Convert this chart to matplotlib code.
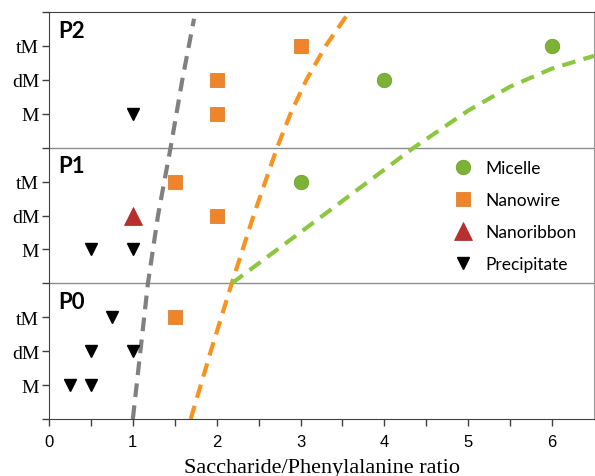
from matplotlib import pyplot as plt
import numpy as np

##-----------------------------------------------------------------------------
## data (y: panel offset + level; P0 = 0, P1 = 3, P2 = 6; M = 0.75, dM = 1.5, tM = 2.25)

level_names = ['M', 'dM', 'tM']
level_pos = [0.75, 1.5, 2.25]
panel_names = ['P0', 'P1', 'P2']
panel_off = [0, 3, 6]

micelle_x = [4, 6, 3]
micelle_y = [6 + 1.5, 6 + 2.25, 3 + 2.25]

nanowire_x = [2, 2, 3, 1.5, 2, 1.5]
nanowire_y = [6 + 0.75, 6 + 1.5, 6 + 2.25, 3 + 2.25, 3 + 1.5, 0 + 2.25]

nanoribbon_x = [1]
nanoribbon_y = [3 + 1.5]

precip_x = [1, 0.5, 1, 0.25, 0.5, 0.5, 1, 0.75]
precip_y = [6 + 0.75, 3 + 0.75, 3 + 0.75, 0.75, 0.75, 1.5, 1.5, 2.25]

gray_x = [1.0, 1.09, 1.18, 1.30, 1.45, 1.59, 1.73]
gray_y = [0, 1.5, 3, 4.5, 6, 7.5, 8.85]

orange_x = [1.69, 1.93, 2.18, 2.44, 2.72, 2.88, 3.07, 3.30, 3.58]
orange_y = [0, 1.5, 3, 4.5, 6, 6.75, 7.5, 8.25, 9.0]

green_x = [2.18, 3.0, 3.7, 4.35, 5.0, 5.5, 6.0, 6.5]
green_y = [3, 4.13, 5.1, 6.0, 6.82, 7.35, 7.75, 8.03]

##-----------------------------------------------------------------------------

fig = plt.figure(figsize=(5.95, 4.77), dpi=100)
ax = fig.add_axes([49/595, 1 - 420/477, (594 - 49)/595, (420 - 13)/477])

dash = (3.3, 2.0)
ax.plot(gray_x, gray_y, color='#808080', lw=3, dashes=dash, zorder=2)
ax.plot(orange_x, orange_y, color='#f7931e', lw=3, dashes=dash, zorder=2)
ax.plot(green_x, green_y, color='#8dc63f', lw=3, dashes=dash, zorder=2)

ax.axhline(3, color='#8c8c8c', lw=1, zorder=1)
ax.axhline(6, color='#8c8c8c', lw=1, zorder=1)

ax.plot(micelle_x, micelle_y, 'o', ms=10.5, color='#7cb236', mec='#6a9a2c', mew=0.5, ls='none', label='Micelle', zorder=3)
ax.plot(nanowire_x, nanowire_y, 's', ms=10.5, color='#f0842a', mec='#d8721e', mew=0.5, ls='none', label='Nanowire', zorder=3)
ax.plot(nanoribbon_x, nanoribbon_y, '^', ms=13, color='#b8302e', mec='#a02826', mew=0.5, ls='none', label='Nanoribbon', zorder=3)
ax.plot(precip_x, precip_y, 'v', ms=9, color='black', ls='none', label='Precipitate', zorder=3)

for name, off in zip(panel_names, panel_off):
    ax.text(0.11, off + 2.6, name, fontsize=16, fontweight='bold', family='Lato', va='center', ha='left')

ax.set_xlim(0, 6.5)
ax.set_ylim(0, 9)

ax.set_xticks(range(7))
ax.set_xticks(np.arange(0.5, 6.5, 1.0), minor=True)
ax.set_xticklabels([str(i) for i in range(7)], family='Liberation Sans', fontsize=12)

yt = [off + p for off in panel_off for p in level_pos]
ax.set_yticks(yt)
ax.set_yticklabels(level_names * 3, family='Liberation Serif', fontsize=14)
ax.set_yticks(panel_off + [9], minor=True)

ax.tick_params(axis='both', which='both', direction='out', length=5, width=1, color='#404040')
ax.tick_params(axis='x', pad=6)
ax.tick_params(axis='y', pad=2)

for s in ['left', 'bottom', 'top']:
    ax.spines[s].set_color('#404040')
ax.spines['right'].set_color('#9a9a9a')
ax.spines['right'].set_linewidth(0.8)

ax.set_xlabel('Saccharide/Phenylalanine ratio', family='Liberation Serif', fontsize=16, labelpad=6)

ax.legend(loc='upper left', bbox_to_anchor=(454/595, 1 - 161/477), bbox_transform=fig.transFigure,
          frameon=False, prop={'family': 'Lato', 'size': 12.5}, handlelength=1.0, handletextpad=0.8,
          labelspacing=0.92, borderpad=0, borderaxespad=0)

fig.savefig('out.png', dpi=100)
